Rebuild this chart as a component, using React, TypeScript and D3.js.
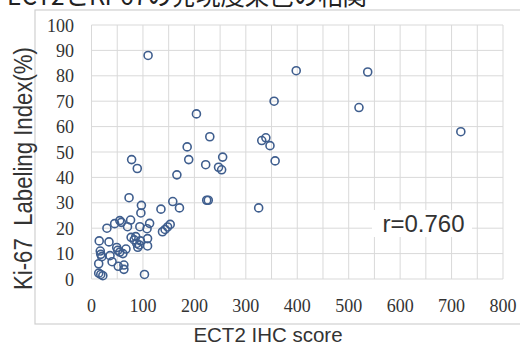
import * as d3 from "d3";

const svg_width = 520;
const svg_height = 345;

const margin = { left: 91.5, right: 17, top: 25, bottom: 66 };

const title = "ECT2とKi-67の発現度染色の相関";
const x_label = "ECT2 IHC score";
const y_label = "Ki-67  Labeling Index(%)";
const r_label = "r=0.760";

const x_ticks = [0, 100, 200, 300, 400, 500, 600, 700, 800];
const y_ticks = [0, 10, 20, 30, 40, 50, 60, 70, 80, 90, 100];

// ECT2 IHC score
const ect2 = [
    110, 355, 204, 230, 186, 189, 222, 255, 247, 253,
    166, 224, 227, 158, 171, 135, 97, 96, 78, 89,
    325, 331, 339, 347, 357, 537, 520, 718, 398, 73,
    153, 148, 143, 138, 30, 45, 55, 58, 76, 70,
    94, 108, 113, 77, 86, 83, 88, 93, 109, 109,
    15, 34, 49, 51, 55, 67, 61, 17, 18, 20,
    36, 14, 40, 52, 63, 63, 14, 18, 22, 103,
    95, 90,
];

// Ki-67 labeling index (%)
const ki67 = [
    88, 70, 65, 56, 52, 47, 45, 48, 44, 43,
    41, 31, 31, 30.5, 28, 27.5, 29, 26, 47, 43.5,
    28, 54.5, 55.6, 52.5, 46.5, 81.5, 67.5, 58, 82, 32,
    21.5, 20.5, 19.5, 18.6, 20, 21.8, 23, 22.3, 23.2, 20.6,
    20.6, 19.8, 21.9, 16.4, 16.7, 15.4, 14, 13.4, 15.9, 13,
    15, 14.6, 12.4, 11.3, 10.6, 11.8, 10, 11, 9.7, 8.8,
    9.2, 6, 6.8, 5, 5.5, 3.8, 2.3, 1.8, 1.3, 1.8,
    15, 12.5,
];

const grid_color = "#d9d9d9";
const text_color = "#333333";
const mark_color = "#3f5e8e";

export default function App() {
    const x = d3.scaleLinear()
        .domain([0, 800])
        .range([margin.left, svg_width - margin.right]);

    const y = d3.scaleLinear()
        .domain([0, 100])
        .range([svg_height - margin.bottom, margin.top]);

    const x_grid = d3.range(0, 801, 50);
    const y_grid = d3.range(0, 101, 10);

    const points = ect2.map((v, i) => [x(v), y(ki67[i])]);

    return (
        <svg
            width={svg_width}
            height={svg_height}
            style={{ position: "absolute", left: 0, top: 0, background: "white" }}
        >
            <text
                x={7}
                y={5}
                fontFamily="'Noto Sans CJK JP', sans-serif"
                fontSize={27}
                fill="#222"
                textLength={360}
                lengthAdjust="spacingAndGlyphs"
            >
                {title}
            </text>

            <rect x={35} y={10} width={500} height={314} fill="none" stroke="#d0d0d0" strokeWidth={1.2} />

            {x_grid.map(d => (
                <line key={"gx" + d} x1={x(d)} x2={x(d)} y1={y(0)} y2={y(100)} stroke={grid_color} strokeWidth={1} />
            ))}
            {y_grid.map(d => (
                <line key={"gy" + d} x1={x(0)} x2={x(800)} y1={y(d)} y2={y(d)} stroke={grid_color} strokeWidth={1} />
            ))}

            {y_ticks.map(d => (
                <text
                    key={"ty" + d}
                    x={74}
                    y={y(d) + 6.5}
                    textAnchor="end"
                    fontFamily="'Liberation Serif', 'DejaVu Serif', serif"
                    fontSize={18}
                    fill={text_color}
                >
                    {d}
                </text>
            ))}
            {x_ticks.map(d => (
                <text
                    key={"tx" + d}
                    x={x(d)}
                    y={312}
                    textAnchor="middle"
                    fontFamily="'Liberation Serif', 'DejaVu Serif', serif"
                    fontSize={18}
                    fill={text_color}
                >
                    {d}
                </text>
            ))}

            <rect x={372} y={210} width={100} height={27} fill="white" />
            <text
                x={423.5}
                y={232}
                textAnchor="middle"
                fontFamily="'Liberation Sans', Arial, sans-serif"
                fontSize={24}
                fill={text_color}
            >
                {r_label}
            </text>

            {points.map(([cx, cy], i) => (
                <circle key={i} cx={cx} cy={cy} r={4} fill="none" stroke={mark_color} strokeWidth={1.6} />
            ))}

            <text
                x={268}
                y={342}
                textAnchor="middle"
                fontFamily="'Liberation Sans', Arial, sans-serif"
                fontSize={20.5}
                fill={text_color}
            >
                {x_label}
            </text>

            <text
                transform={`translate(32, ${168.5}) rotate(-90)`}
                textAnchor="middle"
                fontFamily="'Liberation Sans', Arial, sans-serif"
                fontSize={25}
                fill={text_color}
                textLength={243}
                lengthAdjust="spacingAndGlyphs"
                style={{ whiteSpace: "pre" }}
            >
                {y_label}
            </text>
        </svg>
    );
}
